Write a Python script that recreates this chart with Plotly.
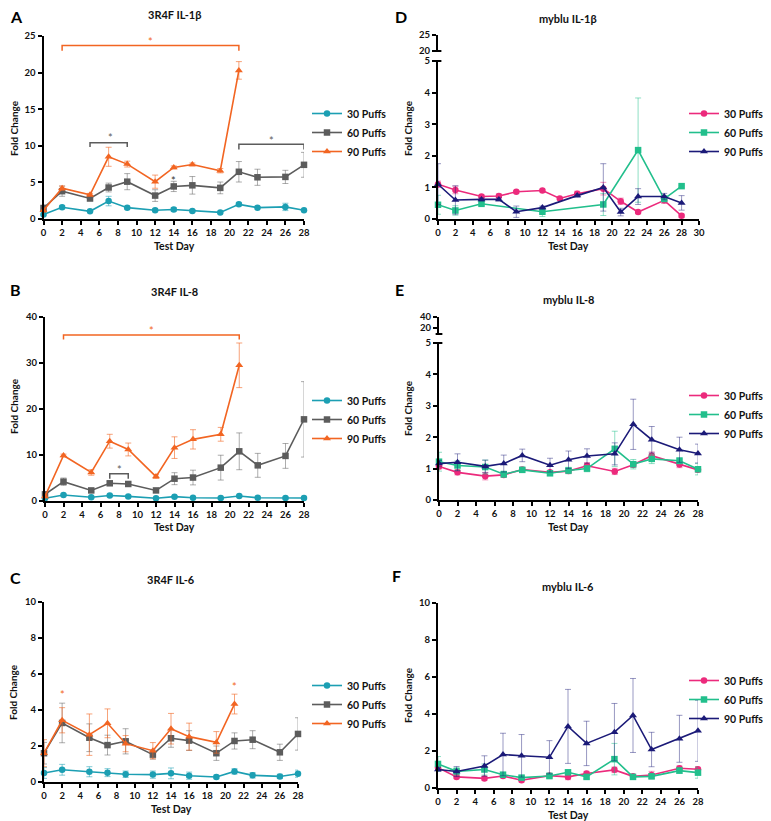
import plotly.graph_objects as go

W, H = 771, 821          # window size
OFF = 8                  # page body margin in the browser
FW, FH = W - OFF, H - OFF
FONT = "Lato"

# ---------------- data ----------------
days_all = [0, 2, 5, 7, 9, 12, 14, 16, 19, 21, 23, 26, 28]
days_90 = [0, 2, 5, 7, 9, 12, 14, 16, 19, 21]
series_names = ["30 Puffs", "60 Puffs", "90 Puffs"]

# A: 3R4F IL-1b
a30 = [0.6, 1.6, 1.05, 2.45, 1.55, 1.2, 1.3, 1.1, 0.9, 2.0, 1.55, 1.65, 1.2]
a30e = [0.15, 0.2, 0.15, 0.65, 0.2, 0.2, 0.25, 0.15, 0.1, 0.2, 0.15, 0.5, 0.15]
a60 = [1.5, 3.8, 2.8, 4.3, 5.1, 3.2, 4.45, 4.6, 4.25, 6.45, 5.7, 5.75, 7.4]
a60e = [0.4, 0.7, 0.3, 0.6, 1.1, 0.8, 0.7, 1.2, 0.8, 1.4, 1.1, 0.9, 1.7]
a90 = [1.2, 4.2, 3.3, 8.5, 7.5, 5.1, 7.05, 7.45, 6.6, 20.3]
a90e = [0.3, 0.3, 0.2, 1.3, 0.4, 0.9, 0.2, 0.2, 0.3, 1.2]

# B: 3R4F IL-8
b30 = [0.6, 1.3, 0.8, 1.2, 1.0, 0.6, 0.95, 0.7, 0.65, 1.1, 0.7, 0.65, 0.65]
b30e = [0.2, 0.2, 0.2, 0.2, 0.2, 0.2, 0.2, 0.2, 0.2, 0.2, 0.2, 0.2, 0.2]
b60 = [1.45, 4.2, 2.3, 3.85, 3.7, 2.3, 4.85, 5.1, 7.25, 10.8, 7.75, 9.8, 17.75]
b60e = [0.5, 0.8, 0.3, 0.4, 0.4, 0.4, 1.3, 1.6, 2.7, 4.0, 2.6, 2.7, 8.2]
b90 = [1.0, 9.9, 6.2, 13.0, 11.2, 5.3, 11.6, 13.4, 14.5, 29.5]
b90e = [0.3, 0.3, 0.6, 1.5, 1.4, 0.4, 2.35, 2.1, 1.5, 4.85]

# C: 3R4F IL-6
c30 = [0.5, 0.68, 0.57, 0.52, 0.43, 0.41, 0.48, 0.35, 0.28, 0.59, 0.37, 0.31, 0.46]
c30e = [0.3, 0.3, 0.28, 0.22, 0.18, 0.2, 0.3, 0.2, 0.1, 0.15, 0.15, 0.12, 0.2]
c60 = [1.6, 3.28, 2.46, 2.05, 2.26, 1.52, 2.43, 2.3, 1.6, 2.28, 2.35, 1.65, 2.67]
c60e = [0.6, 1.1, 0.77, 0.55, 0.7, 0.25, 0.5, 0.55, 0.4, 0.45, 0.5, 0.45, 0.9]
c90 = [1.6, 3.43, 2.63, 3.26, 2.13, 1.74, 2.96, 2.52, 2.2, 4.33]
c90e = [0.75, 0.7, 1.15, 0.8, 0.45, 0.45, 0.85, 0.75, 0.6, 0.55]

# D: myblu IL-1b
d30_days = days_all
d30 = [1.1, 0.92, 0.71, 0.73, 0.86, 0.9, 0.65, 0.8, 0.96, 0.56, 0.22, 0.59, 0.1]
d30e = [0.1, 0.12, 0.05, 0.06, 0.04, 0.04, 0.03, 0.08, 0.2, 0.1, 0.05, 0.1, 0.05]
d60_days = [0, 2, 5, 12, 19, 23, 26, 28]
d60 = [0.45, 0.27, 0.48, 0.23, 0.46, 2.18, 0.64, 1.04]
d60e = [0.3, 0.15, 0.05, 0.15, 0.35, 1.65, 0.1, 0.03]
d90_days = [0, 2, 5, 7, 9, 12, 16, 19, 21, 23, 26, 28]
d90 = [1.1, 0.6, 0.62, 0.62, 0.23, 0.36, 0.74, 1.0, 0.22, 0.71, 0.71, 0.51]
d90e = [0.65, 0.45, 0.05, 0.05, 0.18, 0.05, 0.05, 0.75, 0.12, 0.25, 0.1, 0.23]

# E: myblu IL-8
e30 = [1.07, 0.88, 0.76, 0.8, 0.97, 0.88, 0.92, 1.09, 0.91, 1.12, 1.41, 1.13, 0.96]
e30e = [0.08, 0.08, 0.12, 0.07, 0.06, 0.06, 0.08, 0.1, 0.1, 0.08, 0.12, 0.1, 0.08]
e60 = [1.22, 1.1, 1.05, 0.82, 0.96, 0.85, 0.94, 1.0, 1.63, 1.14, 1.31, 1.25, 0.98]
e60e = [0.3, 0.15, 0.22, 0.1, 0.08, 0.06, 0.1, 0.1, 0.56, 0.15, 0.15, 0.1, 0.18]
e90 = [1.16, 1.2, 1.07, 1.16, 1.42, 1.11, 1.28, 1.4, 1.47, 2.41, 1.92, 1.6, 1.48]
e90e = [0.1, 0.27, 0.2, 0.27, 0.2, 0.22, 0.28, 0.23, 0.35, 0.8, 0.42, 0.4, 0.3]

# F: myblu IL-6
f30 = [1.1, 0.6, 0.52, 0.65, 0.42, 0.67, 0.6, 0.78, 0.98, 0.63, 0.7, 1.07, 1.01]
f30e = [0.15, 0.1, 0.1, 0.1, 0.1, 0.1, 0.15, 0.12, 0.15, 0.1, 0.2, 0.12, 0.15]
f60 = [1.3, 0.9, 1.0, 0.72, 0.56, 0.65, 0.85, 0.6, 1.56, 0.6, 0.63, 0.94, 0.83]
f60e = [0.4, 0.2, 0.3, 0.1, 0.1, 0.15, 0.1, 0.1, 0.85, 0.1, 0.1, 0.15, 0.3]
f90 = [1.0, 0.89, 1.19, 1.81, 1.74, 1.66, 3.33, 2.41, 3.02, 3.92, 2.08, 2.66, 3.09]
f90e = [0.1, 0.27, 0.55, 1.15, 1.15, 0.9, 2.0, 1.2, 1.55, 2.0, 0.93, 1.27, 1.65]

# significance brackets: (panel, x0, x1, y_top, y_leg, color)
brackets = [
    ("A", 2, 21, 23.7, 23.0, "orange"),
    ("A", 5, 9, 10.4, 9.85, "gray"),
    ("A", 21, 28, 10.2, 9.5, "gray"),
    ("B", 2, 21, 36.1, 35.1, "orange"),
    ("B", 7, 9, 5.9, 4.85, "gray"),
]
# significance stars: (panel, x, y, color)
stars = [
    ("A", 11.5, 24.7, "orange"), ("A", 7.2, 11.5, "gray"), ("A", 24.5, 11.2, "gray"),
    ("A", 14, 5.7, "dark"),
    ("B", 11.5, 37.8, "orange"), ("B", 8, 7.6, "gray"),
    ("C", 2, 5.05, "orange"), ("C", 21, 5.5, "orange"),
]

# ---------------- style ----------------
COL = {
    "teal": "#1c9fb3", "gray": "#5c5c5c", "orange": "#f26522",
    "pink": "#ec2a7c", "green": "#22bf8c", "navy": "#1b1a78", "dark": "#333333",
}
ERR = {
    "teal": "rgba(28,159,179,0.55)", "gray": "rgba(92,92,92,0.5)", "orange": "rgba(242,101,34,0.6)",
    "pink": "rgba(236,42,124,0.5)", "green": "rgba(34,191,140,0.5)", "navy": "rgba(27,26,120,0.45)",
}
SYM = ["circle", "square", "triangle-up"]


def px(a):
    return max(a - OFF, 0) / FW


def py(b):
    return 1 - (b - OFF) / FH


def xd(a, b):
    return [px(a), px(b)]


def yd(top, bottom):
    return [py(bottom), py(top)]


# panel geometry in screen pixels: x-left, x-right, y-top, y-bottom
panels = {
    "A": dict(ax="", box=(43.5, 304, 36, 219), yr=[0, 25], yt=5, xr=[0, 28], colors=["teal", "gray", "orange"],
              data=[(days_all, a30, a30e), (days_all, a60, a60e), (days_90, a90, a90e)],
              title="3R4F IL-1β", ttl=(174, 15), letter=(3, 17), fc=(14, 128), td=(174, 246), leg=(307, 99)),
    "D": dict(ax="2", box=(438, 699, 61, 219), yr=[0, 5], yt=1, xr=[0, 30], colors=["pink", "green", "navy"],
              data=[(d30_days, d30, d30e), (d60_days, d60, d60e), (d90_days, d90, d90e)],
              title="myblu IL-1β", ttl=(568, 18), letter=(393, 17), fc=(408, 128), td=(568, 246), leg=(684, 99),
              upper=(35, 51, [20, 25], [20, 25])),
    "B": dict(ax="3", box=(45, 304, 317, 501), yr=[0, 40], yt=10, xr=[0, 28], colors=["teal", "gray", "orange"],
              data=[(days_all, b30, b30e), (days_all, b60, b60e), (days_90, b90, b90e)],
              title="3R4F IL-8", ttl=(174, 292), letter=(3, 289), fc=(14, 406), td=(174, 527), leg=(307, 386)),
    "E": dict(ax="4", box=(439, 698, 343, 500), yr=[0, 5], yt=1, xr=[0, 28], colors=["pink", "green", "navy"],
              data=[(days_all, e30, e30e), (days_all, e60, e60e), (days_all, e90, e90e)],
              title="myblu IL-8", ttl=(568, 299), letter=(393, 289), fc=(408, 408), td=(568, 527), leg=(684, 381),
              upper=(317, 334, [9, 40], [20, 40])),
    "C": dict(ax="5", box=(44, 298, 602, 782), yr=[0, 10], yt=2, xr=[0, 28], colors=["teal", "gray", "orange"],
              data=[(days_all, c30, c30e), (days_all, c60, c60e), (days_90, c90, c90e)],
              title="3R4F IL-6", ttl=(171, 579), letter=(3, 577), fc=(13, 692), td=(171, 809), leg=(307, 671)),
    "F": dict(ax="6", box=(438, 698, 603, 788), yr=[0, 10], yt=2, xr=[0, 28], colors=["pink", "green", "navy"],
              data=[(days_all, f30, f30e), (days_all, f60, f60e), (days_all, f90, f90e)],
              title="myblu IL-6", ttl=(568, 586), letter=(390, 575), fc=(408, 695), td=(568, 815), leg=(684, 666)),
}

fig = go.Figure()
layout = {}
annotations = []
shapes = []
tickfont = dict(family=FONT, size=9.5, color="#111", weight="bold")
upper_idx = 7
axis_common = dict(showline=True, linecolor="black", linewidth=2, ticks="outside", ticklen=4, tickwidth=2,
                   tickcolor="black", showgrid=False, zeroline=False, tickfont=tickfont, fixedrange=True,
                   automargin=False)


def txt(text, x, y, size, **kw):
    d = dict(text=text, x=px(x), y=py(y), xref="paper", yref="paper", showarrow=False,
             xanchor="center", yanchor="middle",
             font=dict(family=FONT, size=size, color="#111", weight="bold"))
    d.update(kw)
    return d


for li, (key, p) in enumerate(panels.items()):
    ax = p["ax"]
    xname, yname = "x" + ax, "y" + ax
    legname = "legend" if li == 0 else f"legend{li + 1}"
    x0, x1, t, b = p["box"]
    for (xs, ys, es), cname, sname, sym in zip(p["data"], p["colors"], series_names, SYM):
        fig.add_trace(go.Scatter(
            x=xs, y=ys, name=sname, mode="lines+markers", xaxis=xname, yaxis=yname,
            legend=legname, cliponaxis=False,
            line=dict(color=COL[cname], width=1.6),
            marker=dict(symbol=sym, size=6.5 if sym != "triangle-up" else 7, color=COL[cname]),
            error_y=dict(type="data", array=es, visible=True, color=ERR[cname], thickness=1, width=3),
        ))
    layout["xaxis" + ax] = dict(domain=xd(x0, x1), range=p["xr"], anchor=yname, tickmode="linear", tick0=0,
                                dtick=2, **axis_common)
    layout["yaxis" + ax] = dict(domain=yd(t, b), range=p["yr"], anchor=xname, tickmode="linear", tick0=0,
                                dtick=p["yt"], **axis_common)
    if "upper" in p:
        ut, ub, ur, uticks = p["upper"]
        uname = f"yaxis{upper_idx}"
        layout[uname] = dict(domain=yd(ut, ub), range=ur, anchor=xname, tickmode="array", tickvals=uticks,
                             **axis_common)
        fig.add_trace(go.Scatter(x=[], y=[], xaxis=xname, yaxis=f"y{upper_idx}", showlegend=False))
        # break caps
        shapes.append(dict(type="line", xref=f"{xname} domain", yref=f"y{upper_idx} domain",
                           x0=-0.013, x1=0.013, y0=0, y1=0, line=dict(color="black", width=2)))
        shapes.append(dict(type="line", xref=f"{xname} domain", yref=f"{yname} domain",
                           x0=-0.013, x1=0.013, y0=1, y1=1, line=dict(color="black", width=2)))
        upper_idx += 1

    lx, ly = p["leg"]
    layout[legname] = dict(
        x=px(lx), y=py(ly), xanchor="left", yanchor="top", bgcolor="rgba(0,0,0,0)",
        font=dict(family=FONT, size=10.5, color="#111", weight="bold"), tracegroupgap=0,
        itemwidth=30,
    )
    annotations.append(txt(p["title"], *p["ttl"], 11))
    annotations.append(txt(key, *p["letter"], 16, xanchor="left",
                           font=dict(family=FONT, size=16, color="#000", weight="bold")))
    annotations.append(txt("Fold Change", *p["fc"], 10, textangle=-90))
    annotations.append(txt("Test Day", *p["td"], 10.5))

for key, xa, xb, yt_, yl, c in brackets:
    ax = panels[key]["ax"]
    shapes.append(dict(type="path", xref="x" + ax, yref="y" + ax,
                       path=f"M {xa},{yl} L {xa},{yt_} L {xb},{yt_} L {xb},{yl}",
                       line=dict(color=COL[c], width=1.5)))
for key, xs, ys, c in stars:
    ax = panels[key]["ax"]
    annotations.append(dict(text="*", x=xs, y=ys, xref="x" + ax, yref="y" + ax, showarrow=False,
                            xanchor="center", yanchor="middle",
                            font=dict(family=FONT, size=11, color=COL[c]), yshift=-3))

fig.update_layout(
    width=FW, height=FH, margin=dict(l=0, r=0, t=0, b=0, autoexpand=False),
    paper_bgcolor="white", plot_bgcolor="white",
    annotations=annotations, shapes=shapes, **layout,
)
fig.write_html("out.html")
